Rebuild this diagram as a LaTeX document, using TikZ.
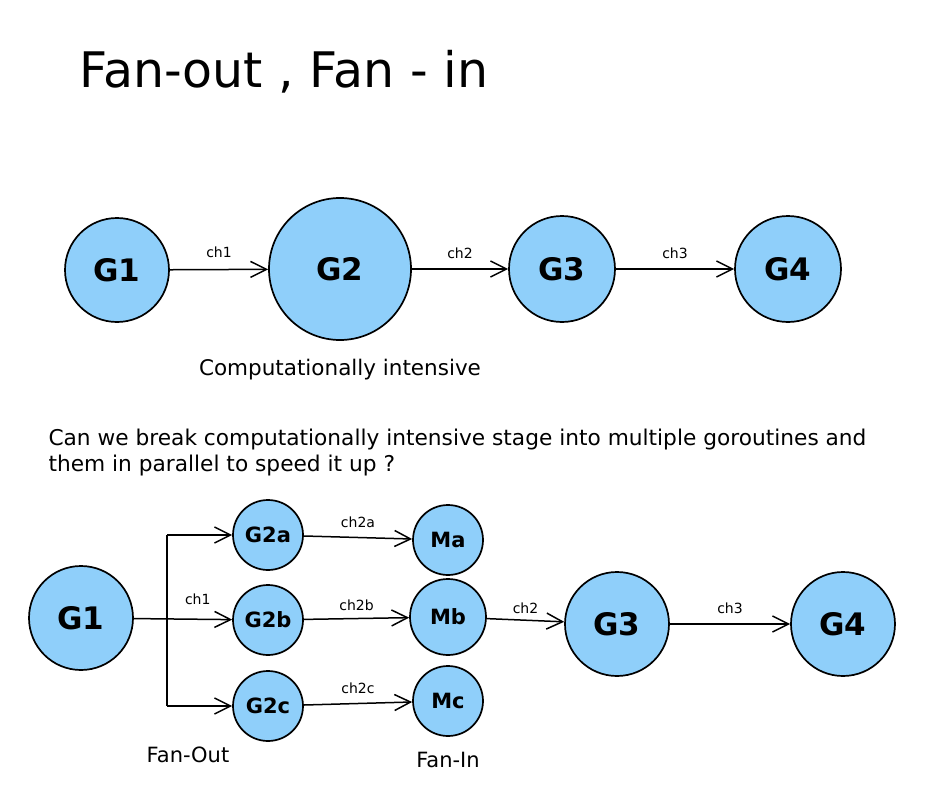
\documentclass[tikz,border=0pt]{standalone}
\usepackage{fontspec}
\setmainfont{DejaVu Sans}
\usetikzlibrary{positioning,arrows.meta}
\definecolor{nodeblue}{RGB}{143,207,250}

\begin{document}
\begin{tikzpicture}[
    x=1pt, y=-1pt,
    gor/.style={circle, draw=black, line width=1.7pt, fill=nodeblue,
        inner sep=0pt, font=\fontsize{31}{31}\selectfont\bfseries},
    small gor/.style={gor, minimum size=70pt, font=\fontsize{21}{21}\selectfont\bfseries},
    chan/.style={-{Straight Barb[length=16pt,width=16pt,line width=1.5pt]}, line width=1.5pt},
    chlabel/.style={font=\fontsize{14}{14}\selectfont},
    note/.style={font=\fontsize{21}{21}\selectfont}
]
\useasboundingbox (0,0) rectangle (932,792);

\node[anchor=west, font=\fontsize{49}{49}\selectfont] (title) at (76,72) {Fan-out , Fan - in};

% one goroutine per stage
\node[gor, minimum size=104pt] (t1) at (117,270) {G1};
\node[gor, minimum size=142pt] (t2) at (340,269) {G2};
\node[gor, minimum size=106pt] (t3) at (562,269) {G3};
\node[gor, minimum size=106pt] (t4) at (788,269) {G4};

\draw[chan] (t1) -- node[chlabel, above=8pt] {ch1} (t2);
\draw[chan] (t2) -- node[chlabel, above=6pt] {ch2} (t3);
\draw[chan] (t3) -- node[chlabel, above=6pt] {ch3} (t4);

\node[note, below=15pt of t2, font=\fontsize{21.5}{21.5}\selectfont] (heavy) {Computationally intensive};

\node[note, anchor=north west, align=left, font=\fontsize{21.7}{26}\selectfont]
    (question) at (45,425) {Can we break computationally intensive stage into multiple goroutines and\\them in parallel to speed it up ?};

% fan-out / fan-in
\node[gor, minimum size=104pt] (b1) at (81,618) {G1};
\node[small gor] (b2a) at (268,535) {G2a};
\node[small gor] (b2b) at (268,620) {G2b};
\node[small gor] (b2c) at (268,706) {G2c};
\node[small gor] (ma) at (448,540) {Ma};
\node[small gor, minimum size=76pt] (mb) at (448,617) {Mb};
\node[small gor] (mc) at (448,701) {Mc};
\node[gor, minimum size=104pt] (b3) at (617,624) {G3};
\node[gor, minimum size=104pt] (b4) at (843,624) {G4};

\coordinate (fotop) at (167,535);
\coordinate (fobot) at (167,706);
\draw[line width=1.5pt] (fotop) -- (fobot);

\draw[chan] (b1) -- node[chlabel, above=10pt, pos=0.65] {ch1} (b2b);
\draw[chan] (fotop) -- (b2a);
\draw[chan] (fobot) -- (b2c);
\draw[chan] (b2a) -- node[chlabel, above=6pt] {ch2a} (ma);
\draw[chan] (b2b) -- node[chlabel, above=4pt] {ch2b} (mb);
\draw[chan] (b2c) -- node[chlabel, above=6pt] {ch2c} (mc);
\draw[chan] (mb) -- node[chlabel, above=2pt] {ch2} (b3);
\draw[chan] (b3) -- node[chlabel, above=6pt] {ch3} (b4);

\node[note] (fanout) at (188,755) {Fan-Out};
\node[note] (fanin) at (448,760) {Fan-In};

\end{tikzpicture}
\end{document}
